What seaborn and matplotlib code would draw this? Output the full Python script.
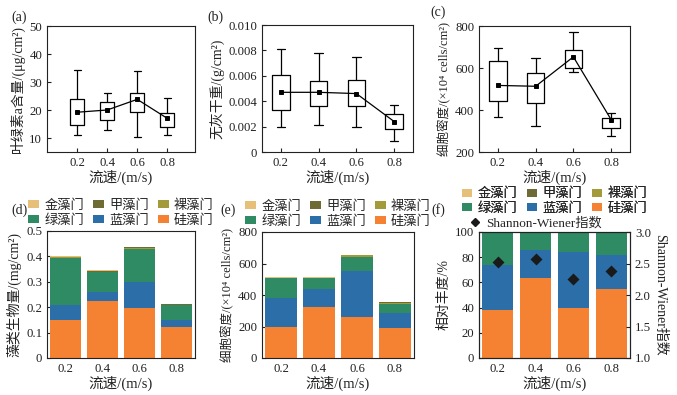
import numpy as np
import pandas as pd
import matplotlib
matplotlib.use("Agg")
import matplotlib.pyplot as plt
from matplotlib.patches import Patch
from matplotlib.lines import Line2D
import seaborn as sns

# ---------------- data ----------------
speeds = ["0.2", "0.4", "0.6", "0.8"]

# box summaries: whisker low, Q1, mean, Q3, whisker high
chla_low = [11.0, 13.0, 10.5, 11.0]
chla_q1 = [14.7, 16.3, 19.3, 13.8]
chla_mean = [19.2, 20.0, 23.8, 17.0]
chla_q3 = [24.0, 23.0, 26.2, 18.8]
chla_high = [34.3, 26.2, 33.8, 24.3]

afdw_low = [0.0020, 0.0021, 0.0020, 0.0009]
afdw_q1 = [0.0033, 0.0036, 0.0036, 0.0018]
afdw_mean = [0.0047, 0.0047, 0.0046, 0.0024]
afdw_q3 = [0.0061, 0.0056, 0.0057, 0.0030]
afdw_high = [0.0081, 0.0078, 0.0075, 0.0037]

dens_low = [369, 324, 582, 275]
dens_q1 = [442, 432, 598, 316]
dens_mean = [517, 513, 653, 354]
dens_q3 = [633, 577, 685, 361]
dens_high = [693, 649, 771, 386]

phyla = ["金藻门", "甲藻门", "裸藻门", "绿藻门", "蓝藻门", "硅藻门"]
phyla_colors = {"金藻门": "#E6BF78", "甲藻门": "#6E6B34", "裸藻门": "#A39B3A",
                "绿藻门": "#2E8B63", "蓝藻门": "#2B6EA8", "硅藻门": "#F58232"}
stack_order = ["硅藻门", "蓝藻门", "绿藻门", "裸藻门", "甲藻门", "金藻门"]

# (d) biomass mg/cm2
bio_gui = [0.150, 0.224, 0.197, 0.122]
bio_lan = [0.058, 0.037, 0.102, 0.028]
bio_lv = [0.186, 0.077, 0.131, 0.057]
bio_luo = [0.002, 0.002, 0.005, 0.001]
bio_jia = [0.001, 0.001, 0.001, 0.003]
bio_jin = [0.006, 0.004, 0.001, 0.001]

# (e) cell density x10^4 cells/cm2
cell_gui = [197, 324, 260, 188]
cell_lan = [182, 114, 290, 98]
cell_lv = [129, 68, 93, 59]
cell_luo = [2, 3, 8, 3]
cell_jia = [1, 1, 2, 6]
cell_jin = [5, 4, 1, 1]

# (f) relative abundance %
rel_gui = [38.0, 63.6, 39.9, 54.8]
rel_lan = [35.7, 21.8, 44.4, 27.1]
rel_lv = [25.3, 13.5, 15.2, 17.3]
rel_luo = [0.4, 0.5, 0.3, 0.3]
rel_jia = [0.2, 0.2, 0.1, 0.4]
rel_jin = [0.4, 0.4, 0.1, 0.1]

shannon = [2.52, 2.575, 2.26, 2.38]

# ---------------- style ----------------
sns.set_style("ticks")
FAM = ["Liberation Serif", "Noto Sans CJK SC", "DejaVu Serif"]
plt.rcParams["font.family"] = FAM
plt.rcParams["axes.unicode_minus"] = False
plt.rcParams["xtick.direction"] = "in"
plt.rcParams["ytick.direction"] = "in"
plt.rcParams["xtick.major.size"] = 3
plt.rcParams["ytick.major.size"] = 3
plt.rcParams["axes.linewidth"] = 0.8
plt.rcParams["axes.edgecolor"] = "#222222"
TICK_FS = 9.2
LAB_FS = 10
XLAB_FS = 10.5
LEG_FS = 9.5
TXT = "#222222"

W, H = 677, 395
fig = plt.figure(figsize=(W / 100, H / 100), dpi=100)


def add_ax(l, r, t, b):
    return fig.add_axes([l / W, 1 - b / H, (r - l) / W, (b - t) / H])


def style_ax(ax):
    for s in ax.spines.values():
        s.set_visible(True)
        s.set_color("#222222")
    ax.tick_params(labelsize=TICK_FS, colors="#222222", labelcolor=TXT, width=0.8,
                   top=False, right=False)
    ax.set_xlabel("流速/(m/s)", fontsize=XLAB_FS, color=TXT, labelpad=1)


def box_panel(ax, low, q1, mean, q3, high):
    rows = []
    for i, s in enumerate(speeds):
        for v in (low[i], q1[i], mean[i], q3[i], high[i]):
            rows.append({"speed": s, "val": v})
    df = pd.DataFrame(rows)
    sns.boxplot(data=df, x="speed", y="val", order=speeds, ax=ax, fill=False,
                color="black", linewidth=0.9, width=0.46, whis=np.inf,
                medianprops={"linewidth": 0}, showfliers=False)
    sns.pointplot(x=speeds, y=mean, ax=ax, color="black", markers="s",
                  markersize=2.2, linewidth=0.9, errorbar=None)
    ax.set_ylabel("")
    style_ax(ax)


# (a)
axa = add_ax(47, 195, 26, 152)
box_panel(axa, chla_low, chla_q1, chla_mean, chla_q3, chla_high)
axa.set_ylim(5, 50)
axa.set_yticks([10, 20, 30, 40, 50])
axa.set_xlim(-1.0, 3.92)
axa.set_ylabel("叶绿素a含量/(μg/cm²)", fontsize=LAB_FS, color=TXT, labelpad=3)

# (b)
axb = add_ax(262, 413, 25, 152)
box_panel(axb, afdw_low, afdw_q1, afdw_mean, afdw_q3, afdw_high)
axb.set_ylim(0, 0.010)
axb.set_yticks([0, 0.002, 0.004, 0.006, 0.008, 0.010])
axb.set_yticklabels(["0", "0.002", "0.004", "0.006", "0.008", "0.010"])
axb.set_xlim(-0.5, 3.5)
axb.set_ylabel("无灰干重/(g/cm²)", fontsize=LAB_FS, color=TXT, labelpad=3)

# (c)
axc = add_ax(479, 630, 26, 152)
box_panel(axc, dens_low, dens_q1, dens_mean, dens_q3, dens_high)
axc.set_ylim(200, 800)
axc.set_yticks([200, 400, 600, 800])
axc.set_xlim(-0.5, 3.5)
axc.set_ylabel("细胞密度/(×10⁴ cells/cm²)", fontsize=9, color=TXT, labelpad=3)


def stack_panel(ax, layers):
    bottom = np.zeros(len(speeds))
    for name in stack_order:
        vals = np.array(layers[name], dtype=float)
        sns.barplot(x=speeds, y=vals, order=speeds, ax=ax, color=phyla_colors[name],
                    saturation=1, width=0.82, errorbar=None, bottom=bottom,
                    linewidth=0)
        bottom = bottom + vals
    ax.set_xlim(-0.5, 3.5)
    style_ax(ax)


def legend_handles():
    # matplotlib fills legend columns first: reorder so rows read as in phyla
    order = [0, 3, 1, 4, 2, 5]
    return [Patch(facecolor=phyla_colors[phyla[i]], edgecolor="none", label=phyla[i])
            for i in order]


# (d)
axd = add_ax(47, 195, 231, 358)
stack_panel(axd, {"硅藻门": bio_gui, "蓝藻门": bio_lan, "绿藻门": bio_lv,
                  "裸藻门": bio_luo, "甲藻门": bio_jia, "金藻门": bio_jin})
axd.set_ylim(0, 0.5)
axd.set_yticks([0, 0.1, 0.2, 0.3, 0.4, 0.5])
axd.set_yticklabels(["0", "0.1", "0.2", "0.3", "0.4", "0.5"])
axd.set_ylabel("藻类生物量/(mg/cm²)", fontsize=LAB_FS, color=TXT, labelpad=3)

# (e)
axe = add_ax(262, 414, 232, 358)
stack_panel(axe, {"硅藻门": cell_gui, "蓝藻门": cell_lan, "绿藻门": cell_lv,
                  "裸藻门": cell_luo, "甲藻门": cell_jia, "金藻门": cell_jin})
axe.set_ylim(0, 800)
axe.set_yticks([0, 200, 400, 600, 800])
axe.set_ylabel("细胞密度/(×10⁴ cells/cm²)", fontsize=9, color=TXT, labelpad=3)

# (f)
axf = add_ax(479, 630, 232, 358)
stack_panel(axf, {"硅藻门": rel_gui, "蓝藻门": rel_lan, "绿藻门": rel_lv,
                  "裸藻门": rel_luo, "甲藻门": rel_jia, "金藻门": rel_jin})
axf.set_ylim(0, 100)
axf.set_yticks([0, 20, 40, 60, 80, 100])
axf.set_ylabel("相对丰度/%", fontsize=LAB_FS, color=TXT, labelpad=3)
axf2 = axf.twinx()
sns.pointplot(x=speeds, y=shannon, ax=axf2, color="#1a1a1a", markers="D",
              markersize=4.5, linestyle="none", errorbar=None)
axf2.set_ylim(1.0, 3.0)
axf2.set_yticks([1.0, 1.5, 2.0, 2.5, 3.0])
axf2.set_yticklabels(["1.0", "1.5", "2.0", "2.5", "3.0"])
axf2.set_xlim(-0.5, 3.5)
axf2.tick_params(labelsize=TICK_FS, colors="#222222", labelcolor=TXT, width=0.8,
                 direction="in", length=3)
axf2.set_ylabel("Shannon-Wiener指数", fontsize=LAB_FS, color=TXT, rotation=-90,
                labelpad=11)

# legends
leg_kw = dict(ncol=3, frameon=False, fontsize=LEG_FS, handlelength=0.8,
              handleheight=0.55, handletextpad=0.4, columnspacing=0.7,
              labelspacing=0.15, borderaxespad=0, borderpad=0)
for ax in (axd, axe):
    ax.legend(handles=legend_handles(), loc="lower center",
              bbox_to_anchor=(0.5, 1.035), **leg_kw)

hf = legend_handles()
sw = Line2D([], [], marker="D", color="#1a1a1a", linestyle="none", markersize=4,
            label="Shannon-Wiener指数")
leg_f = axf.legend(handles=hf, loc="lower center", bbox_to_anchor=(0.5, 1.135), **leg_kw)
axf.add_artist(leg_f)
axf2.legend(handles=[sw], loc="lower left", bbox_to_anchor=(-0.06, 1.02),
            frameon=False, fontsize=LEG_FS, handlelength=0.8, handletextpad=0.4,
            borderaxespad=0, borderpad=0)

# panel labels
for lab, x, y in [("(a)", 19, 17), ("(b)", 215, 17), ("(c)", 438, 12),
                  ("(d)", 19, 210), ("(e)", 228, 210), ("(f)", 438, 210)]:
    fig.text(x / W, 1 - y / H, lab, fontsize=LAB_FS, color=TXT, ha="center", va="center")

fig.savefig("out.png", dpi=100)
